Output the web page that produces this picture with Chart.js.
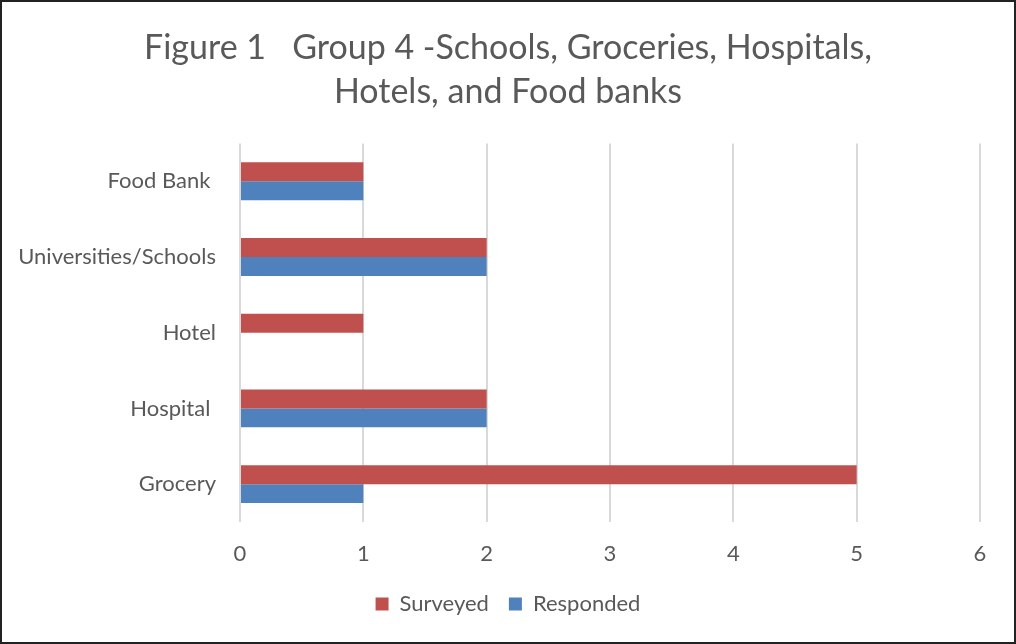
<!DOCTYPE html>
<html>
<head>
<meta charset="utf-8">
<script src="https://cdn.jsdelivr.net/npm/chart.js@4"></script>
<style>
  body { margin: 0; background: #fff; }
  #wrap { width: 1016px; height: 644px; box-sizing: border-box; border: 2px solid #222; }
  canvas { display: block; }
</style>
</head>
<body>
<div id="wrap"><canvas id="myChart" width="1012" height="640"></canvas></div>
<script>
const categories = ['Food Bank ', 'Universities/Schools', 'Hotel', 'Hospital ', 'Grocery'];
const surveyed = [1, 2, 1, 2, 5];
const responded = [1, 2, 0, 2, 1];
const titleLines = ['Figure 1   Group 4 -Schools, Groceries, Hospitals,', 'Hotels, and Food banks'];
const xMin = 0;
const xMax = 6;

const textColor = '#595959';
const fontFamily = 'Lato, "Open Sans", sans-serif';

const ctx = document.getElementById('myChart');
const myChart = new Chart(ctx, {
  type: 'bar',
  data: {
    labels: categories,
    datasets: [
      {
        label: 'Surveyed',
        backgroundColor: '#C0504D',
        data: surveyed
      },
      {
        label: 'Responded',
        backgroundColor: '#4F81BD',
        data: responded
      }
    ]
  },
  options: {
    indexAxis: 'y',
    responsive: false,
    animation: false,
    categoryPercentage: 0.5,
    barPercentage: 1.0,
    layout: { padding: { left: 0, right: 0, top: 0, bottom: 17 } },
    plugins: {
      title: {
        display: true,
        text: titleLines,
        color: textColor,
        font: { family: fontFamily, size: 34, weight: 'normal', lineHeight: 1.3 },
        padding: { top: 24, bottom: 29 }
      },
      legend: {
        position: 'bottom',
        labels: {
          color: textColor,
          font: { family: fontFamily, size: 22 },
          boxWidth: 13,
          boxHeight: 13,
          padding: 20
        }
      },
      tooltip: { enabled: false }
    },
    scales: {
      x: {
        min: xMin,
        max: xMax,
        ticks: {
          stepSize: 1,
          color: textColor,
          font: { family: fontFamily, size: 22 },
          padding: 19
        },
        grid: { color: '#D9D9D9', lineWidth: 2, drawTicks: false },
        border: { display: false },
        afterFit: scale => { scale.height = 51; }
      },
      y: {
        ticks: {
          color: textColor,
          font: { family: fontFamily, size: 22 },
          padding: 24
        },
        grid: { display: false, drawTicks: false },
        border: { display: false },
        afterFit: scale => { scale.width = 238; }
      },
      // empty axis on the right, only to keep space after the "6"
      yRight: {
        type: 'category',
        position: 'right',
        ticks: { display: false },
        grid: { display: false, drawTicks: false },
        border: { display: false },
        afterFit: scale => { scale.width = 34; }
      }
    }
  }
});
</script>
</body>
</html>
